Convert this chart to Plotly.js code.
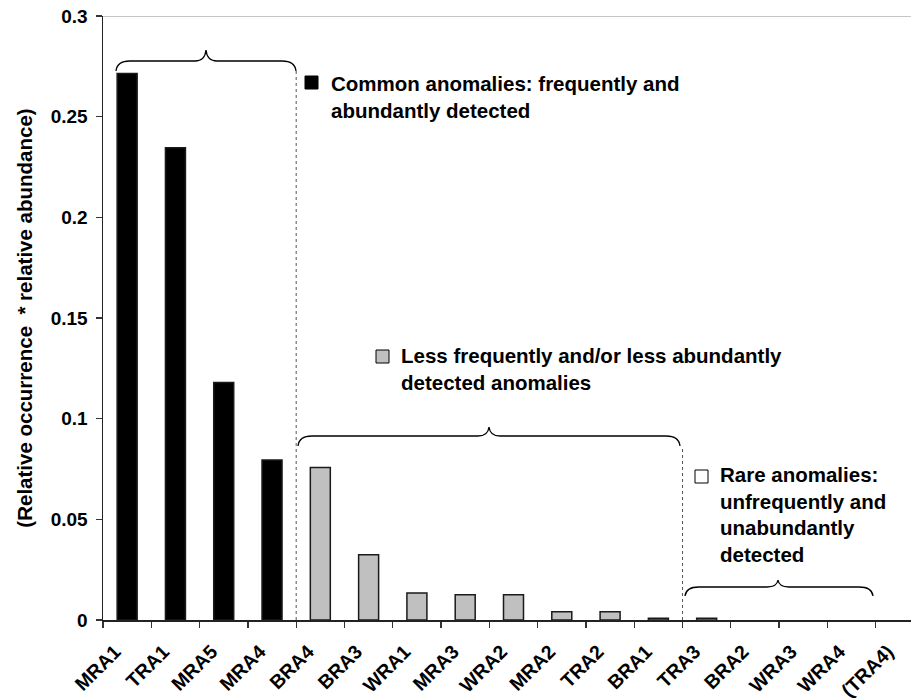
<!DOCTYPE html>
<html><head><meta charset="utf-8">
<script src="https://cdn.plot.ly/plotly-3.0.1.min.js"></script>
<style>html,body{margin:0;padding:0;overflow:hidden;background:#fff}#chart{width:930px;height:698px}</style>
</head><body><div id="chart"></div>
<script>
// ---- data ----
const categories = ['MRA1','TRA1','MRA5','MRA4','BRA4','BRA3','WRA1','MRA3','WRA2','MRA2','TRA2','BRA1','TRA3','BRA2','WRA3','WRA4','(TRA4)'];
const values = [0.2714,0.2346,0.1180,0.0795,0.0757,0.0324,0.0134,0.0126,0.0126,0.0041,0.0041,0.0009,0.0009,0,0,0,0];
const groups = ['common','common','common','common','less','less','less','less','less','less','less','less','rare','rare','rare','rare','rare'];
const groupColors = {common:'#000000', less:'#C0C0C0', rare:'#FFFFFF'};
const groupLabels = {
  common:'Common anomalies: frequently and<br>abundantly detected',
  less:'Less frequently and/or less abundantly<br>detected anomalies',
  rare:'Rare anomalies:<br>unfrequently and<br>unabundantly<br>detected'
};
const yTitle = '(Relative occurrence  * relative abundance)';

// ---- geometry helpers (pixel -> data) ----
const W = 930, H = 698, ML = 103, MR = 6, MT = 16, MB = 78;
const PW = W - ML - MR, PH = H - MT - MB;
const STEP = PW / categories.length;
const YMAX = 0.3;
const px2x = p => (p - ML) / STEP - 0.5;
const px2y = p => (H - MB - p) / PH * YMAX;
const font = 'Liberation Sans, Arial, sans-serif';

function brace(x0, x1, yEnd, yFlat, xTip, yTip) {
  const r = 14, rt = 11;
  const P = (x, y) => px2x(x).toFixed(4) + ',' + px2y(y).toFixed(5);
  return 'M' + P(x0, yEnd) +
    ' Q' + P(x0 + 1, yFlat) + ' ' + P(x0 + r, yFlat) +
    ' L' + P(xTip - rt, yFlat) +
    ' Q' + P(xTip - 1, yFlat) + ' ' + P(xTip, yTip) +
    ' Q' + P(xTip + 1, yFlat) + ' ' + P(xTip + rt, yFlat) +
    ' L' + P(x1 - r, yFlat) +
    ' Q' + P(x1 - 1, yFlat) + ' ' + P(x1, yEnd);
}

const shapes = [
  // top border line
  {type:'line', xref:'paper', yref:'y', x0:0, x1:1, y0:YMAX, y1:YMAX, line:{color:'#8c8c8c', width:1.2}},
  // group separators (dotted)
  {type:'line', xref:'x', yref:'y', x0:3.5, x1:3.5, y0:0, y1:px2y(71), line:{color:'#555', width:1, dash:'dot'}},
  {type:'line', xref:'x', yref:'y', x0:11.5, x1:11.5, y0:0, y1:px2y(446), line:{color:'#555', width:1, dash:'dot'}},
  // braces
  {type:'path', xref:'x', yref:'y', path:brace(116, 296, 71, 61, 206, 50), line:{color:'#000', width:1.3}},
  {type:'path', xref:'x', yref:'y', path:brace(298, 680, 446, 436, 489, 427), line:{color:'#000', width:1.3}},
  {type:'path', xref:'x', yref:'y', path:brace(685, 873, 596, 587, 778, 580), line:{color:'#000', width:1.3}},
  // legend squares
  {type:'rect', xref:'x', yref:'y', x0:px2x(305), x1:px2x(318), y0:px2y(89), y1:px2y(76), fillcolor:groupColors.common, line:{color:'#000', width:1}},
  {type:'rect', xref:'x', yref:'y', x0:px2x(376), x1:px2x(389), y0:px2y(363), y1:px2y(350), fillcolor:groupColors.less, line:{color:'#000', width:1}},
  {type:'rect', xref:'x', yref:'y', x0:px2x(695), x1:px2x(708), y0:px2y(483), y1:px2y(470), fillcolor:groupColors.rare, line:{color:'#000', width:1}}
];

const annFont = {family:font, size:20.5, color:'#000', weight:'bold'};
const annotations = [
  {xref:'x', yref:'y', x:px2x(329), y:px2y(97), xanchor:'left', yanchor:'middle', align:'left', showarrow:false, text:'<b>'+groupLabels.common+'</b>', font:annFont},
  {xref:'x', yref:'y', x:px2x(399), y:px2y(369), xanchor:'left', yanchor:'middle', align:'left', showarrow:false, text:'<b>'+groupLabels.less+'</b>', font:annFont},
  {xref:'x', yref:'y', x:px2x(718), y:px2y(514), xanchor:'left', yanchor:'middle', align:'left', showarrow:false, text:'<b>'+groupLabels.rare+'</b>', font:annFont}
];

const trace = {
  type:'bar', x:categories, y:values,
  marker:{color:groups.map(g => groupColors[g]), line:{color:'#1a1a1a', width:values.map(v => v > 0 ? 1.5 : 0)}},
  showlegend:false, hoverinfo:'x+y'
};

const layout = {
  width:W, height:H,
  margin:{l:ML, r:MR, t:MT, b:MB, pad:0},
  paper_bgcolor:'#fff', plot_bgcolor:'#fff',
  bargap:0.586,
  font:{family:font, color:'#000'},
  xaxis:{
    type:'category', range:[-0.5, categories.length - 0.5], tickson:'boundaries',
    ticks:'outside', ticklen:6, tickcolor:'#333', tickwidth:1.3,
    showline:true, linecolor:'#222', linewidth:1.5, showgrid:false, zeroline:false,
    tickangle:-45, tickfont:{family:font, size:19.5, weight:'bold'},
    ticklabelstandoff:11, ticklabelshift:-12, automargin:false
  },
  yaxis:{
    range:[0, YMAX], dtick:0.05, tick0:0,
    ticks:'outside', ticklen:6, tickcolor:'#333', tickwidth:1.3,
    showline:true, linecolor:'#222', linewidth:1.5, showgrid:false, zeroline:false,
    tickfont:{family:font, size:19, weight:'bold'}, ticklabelstandoff:4,
    title:{text:'<b>'+yTitle+'</b>', font:{family:font, size:20.5, weight:'bold'}, standoff:12},
    automargin:false
  },
  shapes:shapes, annotations:annotations
};

Plotly.newPlot('chart', [trace], layout, {displayModeBar:false, staticPlot:true});
</script></body></html>
